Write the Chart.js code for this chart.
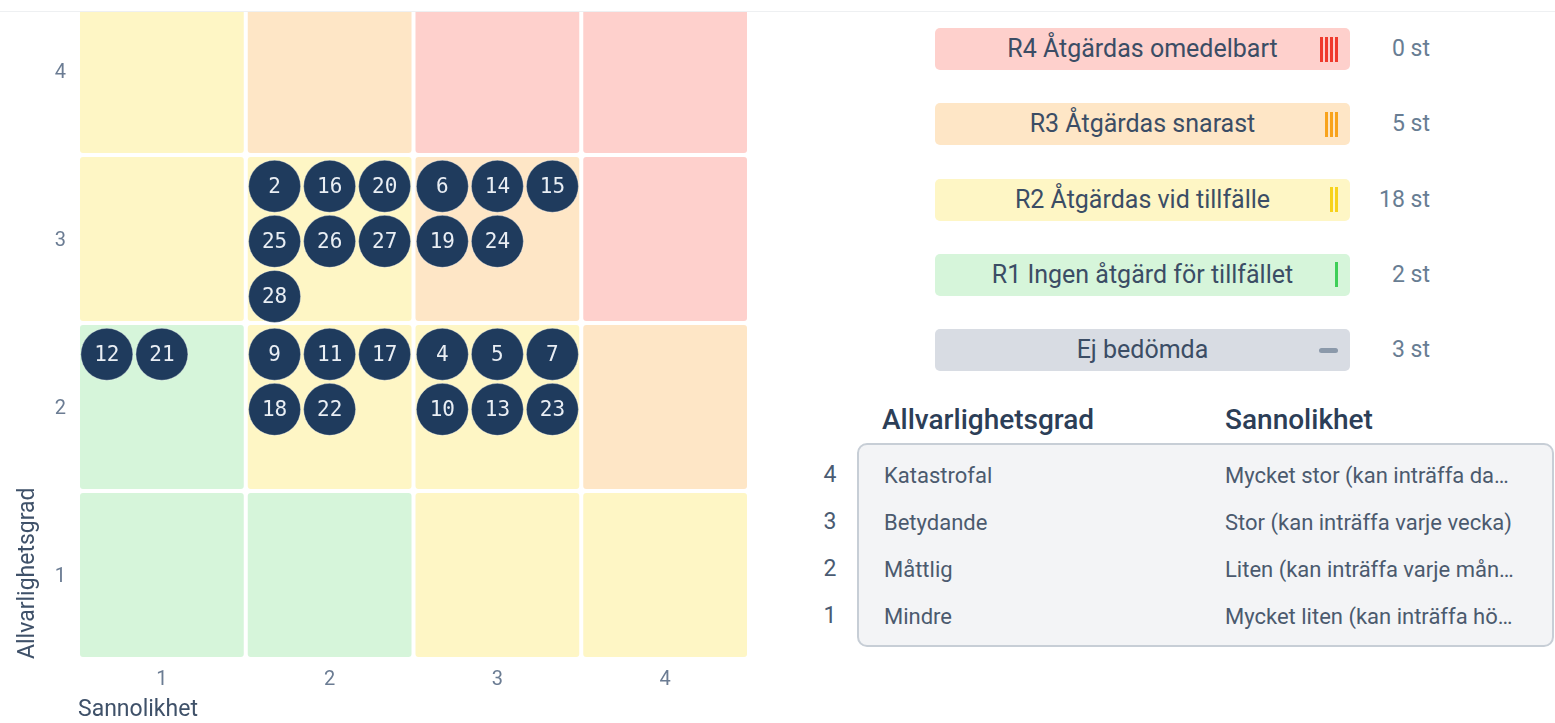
<!DOCTYPE html>
<html><head><meta charset="utf-8">
<script src="https://cdn.jsdelivr.net/npm/chart.js@4.4.1/dist/chart.umd.min.js"></script>
<style>
html,body{margin:0;padding:0;background:#fff;width:1555px;height:723px;overflow:hidden;font-family:Roboto,"Noto Sans",sans-serif;}
#topline{position:absolute;left:0;top:11px;width:1555px;height:1px;background:#eef0f2;}
#clip{position:absolute;left:0;top:12px;width:780px;height:711px;overflow:hidden;}
#chartWrap{position:absolute;left:0;top:-25px;width:780px;height:743px;}
.pill{position:absolute;left:935px;width:415px;height:42px;border-radius:5px;}
.pill .lbl{position:absolute;left:0;right:0;top:0;line-height:42px;text-align:center;font-size:25px;color:#3b4d65;}
.pill .mark{position:absolute;right:12px;top:8px;height:26px;display:flex;gap:2px;align-items:center;}
.pill .mark i{display:block;width:3px;height:25px;}
.pill .mark b{display:block;width:19px;height:5px;border-radius:3px;}
.cnt{position:absolute;right:125px;height:42px;line-height:42px;font-size:23px;color:#687d93;white-space:nowrap;}
.hdr{position:absolute;top:404px;font-size:28px;font-weight:500;color:#2c3e57;line-height:32px;}
#tbl{position:absolute;left:857px;top:443px;width:693px;height:200px;border:2px solid #c7ced6;border-radius:10px;background:#f3f4f6;}
.rn{position:absolute;left:818px;width:24px;text-align:center;font-size:23px;color:#4a5b72;line-height:30px;}
.c1,.c2{position:absolute;font-size:22px;color:#4b5a6e;line-height:28px;white-space:nowrap;overflow:hidden;text-overflow:ellipsis;}
.c1{left:884px;width:300px;}
.c2{left:1225px;width:294px;}
</style></head>
<body>
<div id="topline"></div>
<div id="clip"><div id="chartWrap"><canvas id="c" width="780" height="743"></canvas></div></div>
<div id="panel"></div>
<script>
// ---- data ----
const likelihoodTicks = [1, 2, 3, 4];
const severityTicks = [1, 2, 3, 4];
// risk level of each cell, rows from severity 4 (top) down to 1, columns likelihood 1..4
const levelGrid = [
  [2, 3, 4, 4],
  [2, 2, 3, 4],
  [1, 2, 2, 3],
  [1, 1, 2, 2]
];
const riskIds        = [1, 2, 3, 4, 5, 6, 7, 8, 9, 10, 11, 12, 13, 14, 15, 16, 17, 18, 19, 20, 21, 22, 23, 24, 25, 26, 27, 28];
const riskLikelihood = [null, 2, null, 3, 3, 3, 3, null, 2, 3, 2, 1, 3, 3, 3, 2, 2, 2, 3, 2, 1, 2, 3, 3, 2, 2, 2, 2];
const riskSeverity   = [null, 3, null, 2, 2, 3, 2, null, 2, 2, 2, 2, 2, 3, 3, 3, 2, 2, 3, 3, 2, 2, 2, 3, 3, 3, 3, 3];
const levelNames = ['R4 Åtgärdas omedelbart', 'R3 Åtgärdas snarast', 'R2 Åtgärdas vid tillfälle', 'R1 Ingen åtgärd för tillfället', 'Ej bedömda'];
const levelKeys = [4, 3, 2, 1, 0];
const severityNames = ['Katastrofal', 'Betydande', 'Måttlig', 'Mindre'];
const likelihoodNames = ['Mycket stor (kan inträffa dagligen)', 'Stor (kan inträffa varje vecka)', 'Liten (kan inträffa varje månad)', 'Mycket liten (kan inträffa högst en gång per år)'];
const rowNumbers = [4, 3, 2, 1];

// ---- styles ----
const cellColors = {1: '#d6f5da', 2: '#fef6c5', 3: '#fee6c6', 4: '#fed0cc'};
const markColors = {4: '#ef3a2c', 3: '#f8a31c', 2: '#f7d21b', 1: '#3fcf58', 0: '#8b99aa'};
const bubbleColor = '#1f3b5d';

// ---- layout of bubbles inside a cell (grid of 3 per row) ----
const FIRST_X = 0.172, FIRST_Y = 0.186, STEP = 0.328, PER_ROW = 3;
const cellCount = {};
const points = [];
riskIds.forEach((id, i) => {
  const l = riskLikelihood[i], s = riskSeverity[i];
  if (l == null) return;
  const k = l + '_' + s;
  const n = cellCount[k] || 0; cellCount[k] = n + 1;
  points.push({x: l - 0.5 + FIRST_X + (n % PER_ROW) * STEP, y: s + 0.5 - FIRST_Y - Math.floor(n / PER_ROW) * STEP, id: id});
});

const cellPlugin = {
  id: 'cells',
  beforeDatasetsDraw(chart) {
    const {ctx, scales: {x, y}} = chart;
    ctx.save();
    levelGrid.forEach((row, r) => {
      const sev = 4 - r;
      row.forEach((lvl, c) => {
        const lik = c + 1;
        const x0 = x.getPixelForValue(lik - 0.5) + 2, x1 = x.getPixelForValue(lik + 0.5) - 2;
        const y0 = y.getPixelForValue(sev + 0.5) + 2, y1 = y.getPixelForValue(sev - 0.5) - 2;
        ctx.fillStyle = cellColors[lvl];
        ctx.beginPath();
        ctx.roundRect(x0, y0, x1 - x0, y1 - y0, 3);
        ctx.fill();
      });
    });
    ctx.restore();
  }
};
const labelPlugin = {
  id: 'bubbleLabels',
  afterDatasetsDraw(chart) {
    const {ctx} = chart;
    const meta = chart.getDatasetMeta(0);
    ctx.save();
    ctx.fillStyle = '#e9eef4';
    ctx.font = '21px "DejaVu Sans Mono", monospace';
    ctx.textAlign = 'center';
    ctx.textBaseline = 'middle';
    meta.data.forEach((el, i) => {
      ctx.fillText(String(points[i].id), el.x, el.y + 1);
    });
    ctx.restore();
  }
};
const noPad = s => { s.paddingTop = 0; s.paddingBottom = 0; s.paddingLeft = 0; s.paddingRight = 0; };

new Chart(document.getElementById('c'), {
  type: 'scatter',
  data: {datasets: [{data: points, backgroundColor: bubbleColor, borderColor: 'rgba(255,255,255,0.35)', borderWidth: 1, pointRadius: 26, pointHoverRadius: 26, clip: false}]},
  options: {
    responsive: false, animation: false,
    layout: {autoPadding: false, padding: {left: 0, right: 31, top: 0, bottom: 0}},
    plugins: {legend: {display: false}, tooltip: {enabled: false}},
    scales: {
      x: {type: 'linear', min: 0.5, max: 4.5, afterBuildTicks: s => { s.ticks = likelihoodTicks.map(v => ({value: v})); },
          grid: {display: false, drawTicks: false}, border: {display: false},
          ticks: {padding: 9, color: '#6b7c93', font: {family: 'Roboto', size: 20}},
          title: {display: true, text: 'Sannolikhet', align: 'start', color: '#3f5169', font: {family: 'Roboto', size: 23}, padding: {top: 0, bottom: 6}},
          afterFit: s => { s.height = 71; noPad(s); }},
      y: {type: 'linear', min: 0.5, max: 4.5, afterBuildTicks: s => { s.ticks = severityTicks.map(v => ({value: v})); },
          grid: {display: false, drawTicks: false}, border: {display: false},
          ticks: {padding: 12, labelOffset: 2, color: '#6b7c93', font: {family: 'Roboto', size: 20}},
          title: {display: true, text: 'Allvarlighetsgrad', align: 'start', color: '#3f5169', font: {family: 'Roboto', size: 23}, padding: {top: 14, bottom: 0}},
          afterFit: s => { s.width = 78; noPad(s); }}
    }
  },
  plugins: [cellPlugin, labelPlugin]
});

// ---- right panel ----
const counts = {0: 0, 1: 0, 2: 0, 3: 0, 4: 0};
riskIds.forEach((id, i) => {
  const l = riskLikelihood[i], s = riskSeverity[i];
  if (l == null) counts[0]++; else counts[levelGrid[4 - s][l - 1]]++;
});
const panel = document.getElementById('panel');
levelNames.forEach((name, i) => {
  const key = levelKeys[i];
  const top = 28 + i * 75.3;
  const p = document.createElement('div');
  p.className = 'pill';
  p.style.top = top + 'px';
  p.style.background = key === 0 ? '#d8dce3' : cellColors[key];
  const lbl = document.createElement('div'); lbl.className = 'lbl'; lbl.textContent = name; p.appendChild(lbl);
  const m = document.createElement('div'); m.className = 'mark';
  if (key === 0) { const b = document.createElement('b'); b.style.background = markColors[0]; m.appendChild(b); }
  else for (let j = 0; j < key; j++) { const t = document.createElement('i'); t.style.background = markColors[key]; m.appendChild(t); }
  p.appendChild(m);
  panel.appendChild(p);
  const c = document.createElement('div'); c.className = 'cnt'; c.style.top = top + 'px'; c.textContent = counts[key] + ' st';
  panel.appendChild(c);
});
[['Allvarlighetsgrad', 882], ['Sannolikhet', 1225]].forEach(([t, x]) => {
  const h = document.createElement('div'); h.className = 'hdr'; h.style.left = x + 'px'; h.textContent = t; panel.appendChild(h);
});
const tbl = document.createElement('div'); tbl.id = 'tbl'; panel.appendChild(tbl);
rowNumbers.forEach((n, i) => {
  const yc = 476 + i * 47.1;
  const rn = document.createElement('div'); rn.className = 'rn'; rn.style.top = (yc - 16) + 'px'; rn.textContent = n; panel.appendChild(rn);
  const a = document.createElement('div'); a.className = 'c1'; a.style.top = (yc - 14) + 'px'; a.textContent = severityNames[i]; panel.appendChild(a);
  const b = document.createElement('div'); b.className = 'c2'; b.style.top = (yc - 14) + 'px'; b.textContent = likelihoodNames[i]; panel.appendChild(b);
});
</script>
</body></html>
